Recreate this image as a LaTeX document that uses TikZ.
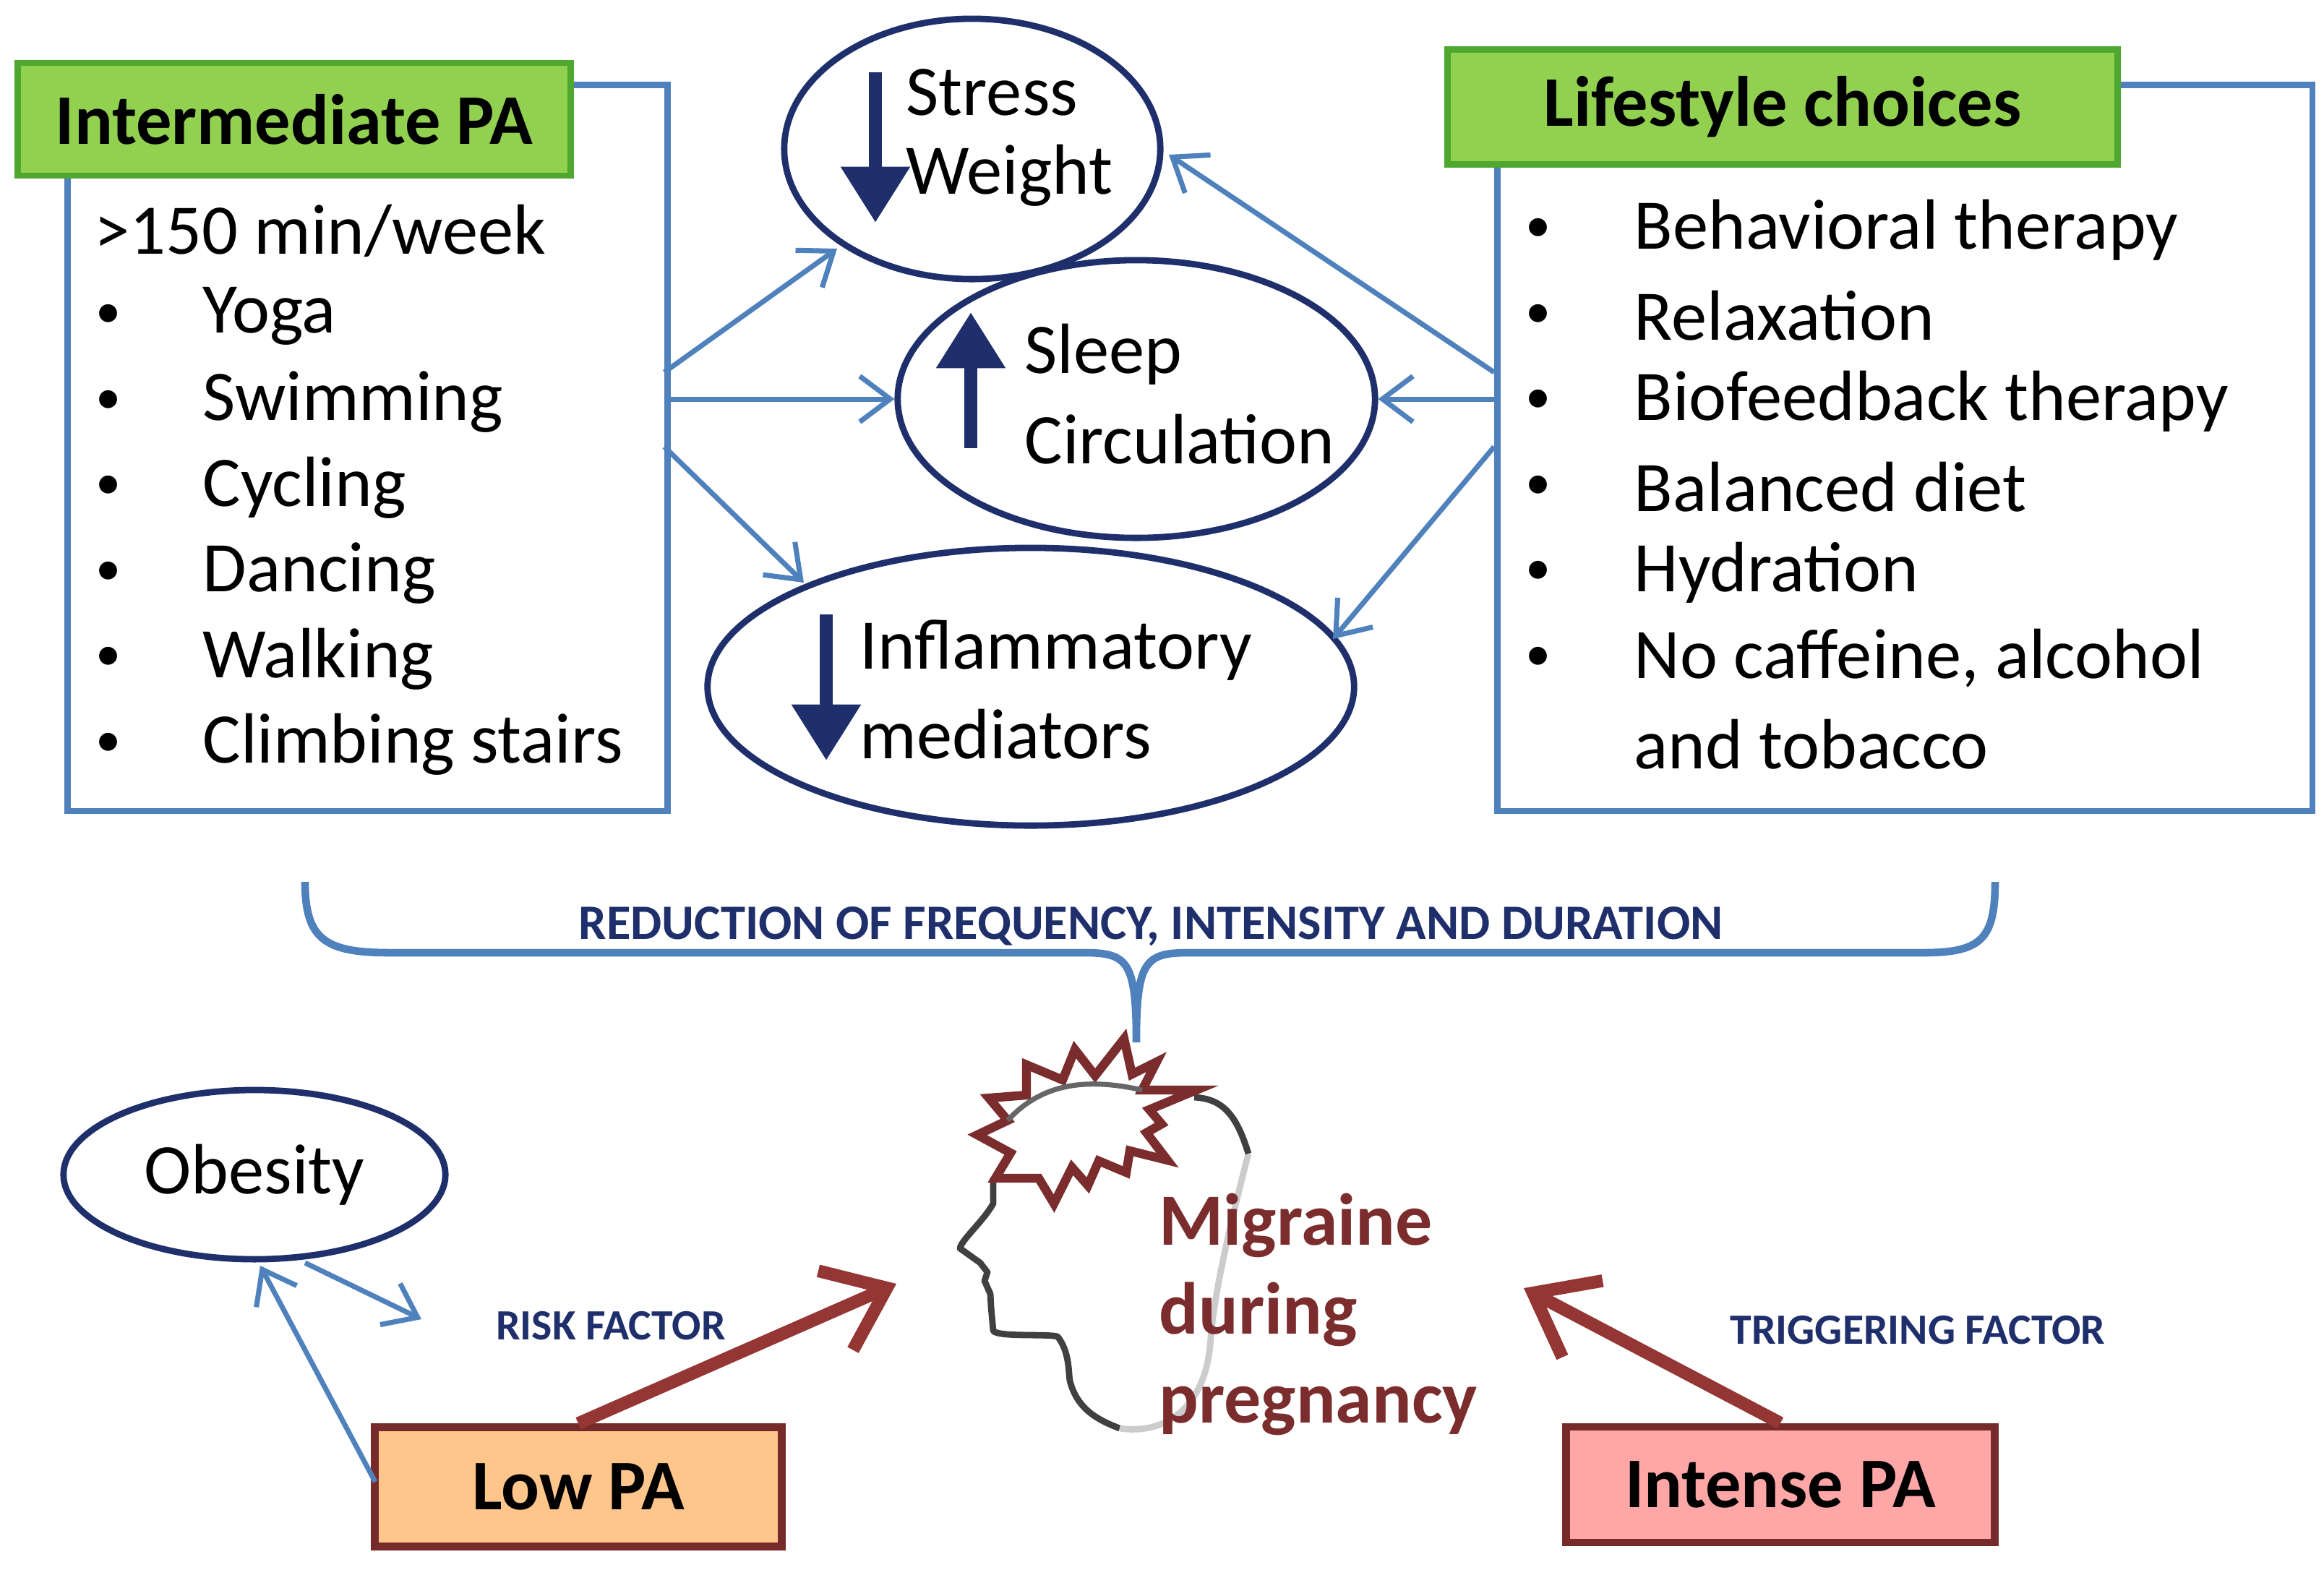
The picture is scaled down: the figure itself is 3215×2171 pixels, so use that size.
\documentclass[tikz,border=0pt]{standalone}
\usepackage{fontspec}
\setmainfont{Carlito}
\usetikzlibrary{shapes.geometric,arrows.meta}
\definecolor{bbl}{HTML}{4F81BD}
\definecolor{navy}{HTML}{1F2F6B}
\definecolor{grn}{HTML}{92D050}
\definecolor{grnb}{HTML}{4EA72E}
\definecolor{mred}{HTML}{7B2C2C}
\definecolor{rarr}{HTML}{943634}
\tikzset{
 box/.style={draw=bbl,line width=2.5pt},
 title/.style={draw=grnb,fill=grn,line width=2.5pt,font=\fontsize{28}{33}\selectfont\bfseries,inner sep=0pt},
 ell/.style={ellipse,draw=navy,line width=2.5pt,inner sep=0pt},
 txt/.style={font=\fontsize{28}{33.6}\selectfont,anchor=west,inner sep=0pt},
 bul/.style={font=\fontsize{20}{24}\selectfont,inner sep=0pt},
 barr/.style={draw=bbl,line width=2pt,-{Straight Barb[length=12pt,width=18pt,line width=2pt]}},
 darr/.style={draw=navy,line width=5pt,-{Triangle[length=22pt,width=26pt]}},
 rarrow/.style={draw=rarr,line width=5pt,-{Straight Barb[length=22pt,width=34pt,line width=5pt]}},
 captxt/.style={font=\fontsize{17}{20}\selectfont\bfseries,text=navy,inner sep=0pt},
}
\begin{document}
\begin{tikzpicture}[x=0.01cm,y=-0.01cm]
\useasboundingbox (0,0) rectangle (3215,2171);
% boxes
\node[box,minimum width=8.30cm,minimum height=10.04cm,anchor=north west,inner sep=0pt] (lbox) at (89,113) {};
\node[box,minimum width=11.27cm,minimum height=10.04cm,anchor=north west,inner sep=0pt] (rbox) at (2067,113) {};
\node[title,minimum width=7.64cm,minimum height=1.56cm] (ltitle) at (407,165) {Intermediate PA};
\node[title,minimum width=9.27cm,minimum height=1.59cm] (rtitle) at (2466,148) {Lifestyle choices};
% left list
\node[txt] (l0) at (130,319) {>150 min/week};
\foreach \t [count=\i] in {Yoga,Swimming,Cycling,Dancing,Walking,Climbing stairs}{
  \node[bul] (lb\i) at (150,319+\i*118.5) {•};
  \node[txt] (li\i) at (280,319+\i*118.5) {\t};
}
% right list
\foreach \t [count=\i] in {Behavioral therapy,Relaxation,Biofeedback therapy,Balanced diet,Hydration,No caffeine{,} alcohol}{
  \node[bul] (rb\i) at (2128,200+\i*118.5) {•};
  \node[txt] (ri\i) at (2260,200+\i*118.5) {\t};
}
\node[txt] (ri7) at (2260,1030) {and tobacco};
% ellipses
\node[ell,minimum width=5.2cm,minimum height=3.6cm] (stress) at (1345,206) {};
\node[ell,minimum width=6.6cm,minimum height=3.84cm] (sleep) at (1572,552) {};
\node[ell,minimum width=8.94cm,minimum height=3.84cm] (infl) at (1426,950) {};
\node[txt] (s1) at (1253,128) {Stress};
\node[txt] (s2) at (1253,243) {Weight};
\node[txt] (p1) at (1417,490) {Sleep};
\node[txt] (p2) at (1417,608) {Circulation};
\node[txt] (i1) at (1189,900) {Inflammatory};
\node[txt] (i2) at (1189,1016) {mediators};
\coordinate (sa1) at (1211,100); \coordinate (sa2) at (1211,308);
\coordinate (pa1) at (1343,620); \coordinate (pa2) at (1343,432);
\coordinate (ia1) at (1143,850); \coordinate (ia2) at (1143,1052);
\draw[darr] (sa1) -- (sa2);
\draw[darr] (pa1) -- (pa2);
\draw[darr] (ia1) -- (ia2);
% blue arrows
\coordinate (la) at (919,515); \coordinate (lb) at (919,552); \coordinate (lc) at (919,618);
\coordinate (ra) at (2067,515); \coordinate (rb) at (2067,552); \coordinate (rc) at (2067,618);
\draw[barr] (la) -- (1158,344);
\draw[barr] (lb) -- (sleep.west);
\draw[barr] (lc) -- (1112,806);
\draw[barr] (ra) -- (1617,214);
\draw[barr] (rb) -- (sleep.east);
\draw[barr] (rc) -- (1844,884);
% brace
\coordinate (tip) at (1572,1442);
\draw[bbl,line width=3pt] (422,1220) .. controls (422,1300) and (450,1318) .. (540,1318) -- (1500,1318) .. controls (1560,1318) and (1572,1330) .. (tip) .. controls (1572,1330) and (1584,1318) .. (1644,1318) -- (2660,1318) .. controls (2740,1318) and (2760,1300) .. (2760,1220);
\node[captxt,font=\fontsize{19.5}{22}\selectfont\bfseries] (red) at (1592,1282) {REDUCTION OF FREQUENCY, INTENSITY AND DURATION};
% head
\draw[black!75,line width=2.5pt,line join=round] (1374,1629) -- (1374,1665) .. controls (1360,1690) and (1330,1715) .. (1328,1727) -- (1356,1747) -- (1366,1760) -- (1362,1772) -- (1370,1790) -- (1371,1808) -- (1374,1841) .. controls (1380,1850) and (1450,1845) .. (1463,1849) .. controls (1480,1870) and (1478,1900) .. (1480,1910) .. controls (1490,1950) and (1520,1965) .. (1549,1976);
\draw[black!20,line width=2.5pt] (1549,1976) .. controls (1610,1985) and (1670,1950) .. (1675,1849) .. controls (1680,1790) and (1700,1700) .. (1727,1596);
\draw[black!75,line width=2.5pt] (1727,1596) .. controls (1710,1540) and (1690,1520) .. (1652,1518);
\draw[mred,line width=3.5pt,line join=miter,fill=white] (1555,1437) -- (1566,1486) -- (1600,1469) -- (1580,1508) -- (1655,1508) -- (1590,1535) -- (1607,1555) -- (1586,1567) -- (1615,1605) -- (1563,1592) -- (1558,1622) -- (1520,1606) -- (1505,1640) -- (1483,1615) -- (1458,1665) -- (1437,1630) -- (1377,1630) -- (1398,1595) -- (1352,1570) -- (1394,1550) -- (1368,1519) -- (1420,1515) -- (1420,1473) -- (1470,1494) -- (1487,1452) -- (1515,1488) -- cycle;
\draw[black!60,line width=2pt] (1394,1550) .. controls (1440,1500) and (1500,1490) .. (1580,1508);
\node[font=\fontsize{29}{35}\selectfont\bfseries,text=mred,align=left,anchor=north west,inner sep=0pt] (mig) at (1603,1650) {Migraine\\during\\pregnancy};
% bottom
\node[ell,minimum width=5.28cm,minimum height=2.34cm] (obes) at (352,1625) {};
\node[txt,anchor=center] (obt) at (352,1625) {Obesity};
\node[draw=rarr!80!black,fill=orange!45,line width=3pt,minimum width=5.63cm,minimum height=1.65cm,inner sep=0pt,font=\fontsize{28}{33}\selectfont\bfseries] (low) at (800,2057) {Low PA};
\node[draw=rarr!80!black,fill=red!35!white,line width=3pt,minimum width=5.93cm,minimum height=1.60cm,inner sep=0pt,font=\fontsize{28}{33}\selectfont\bfseries] (int) at (2463,2054) {Intense PA};
\node[captxt] (risk) at (845,1834) {RISK FACTOR};
\node[captxt] (trig) at (2653,1840) {TRIGGERING FACTOR};
\coordinate (lowl) at (519,2050);
\draw[barr] (lowl) -- (360,1751);
\draw[barr] (422,1747) -- (583,1825);
\draw[rarrow] (low.north) -- (1240,1776);
\draw[rarrow] (int.north) -- (2108,1782);
\end{tikzpicture}
\end{document}
